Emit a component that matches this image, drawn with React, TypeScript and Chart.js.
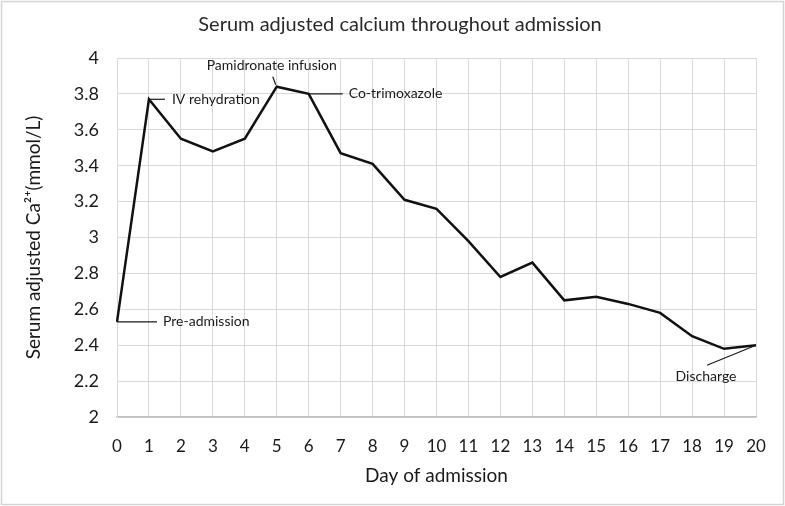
import React, { useEffect, useRef } from "react";
import { Chart, registerables } from "chart.js";

Chart.register(...registerables);

const days: string[] = ["0","1","2","3","4","5","6","7","8","9","10","11","12","13","14","15","16","17","18","19","20"];
const calcium: number[] = [2.53, 3.77, 3.55, 3.48, 3.55, 3.84, 3.80, 3.47, 3.41, 3.21, 3.16, 2.98, 2.78, 2.86, 2.65, 2.67, 2.63, 2.58, 2.45, 2.38, 2.40];

const chartTitle = "Serum adjusted calcium throughout admission";
const xTitle = "Day of admission";
const yTitle = "Serum adjusted Ca\u00B2\u207A(mmol/L)";

// annotation: day index, label
const annotationDays: number[] = [0, 1, 5, 6, 20];
const annotationLabels: string[] = ["Pre-admission", "IV rehydration", "Pamidronate infusion", "Co-trimoxazole", "Discharge"];

const FONT = "Lato, 'Open Sans', sans-serif";

export default function App() {
  const ref = useRef<HTMLCanvasElement | null>(null);
  useEffect(() => {
    if (!ref.current) return;
    const overlay = {
      id: "overlay",
      afterDatasetsDraw(chart: any) {
        const ctx = chart.ctx as CanvasRenderingContext2D;
        const xs = chart.scales.x;
        const ys = chart.scales.y;
        ctx.save();
        ctx.strokeStyle = "#1a1a1a";
        ctx.fillStyle = "#1a1a1a";
        ctx.lineWidth = 1.2;
        ctx.font = `14px ${FONT}`;
        ctx.textBaseline = "middle";
        annotationDays.forEach((d, i) => {
          const px = xs.getPixelForValue(d);
          const py = ys.getPixelForValue(calcium[d]);
          const label = annotationLabels[i];
          ctx.beginPath();
          if (i === 0) {
            ctx.moveTo(px, py); ctx.lineTo(px + 40, py); ctx.stroke();
            ctx.textAlign = "left"; ctx.fillText(label, px + 46, py);
          } else if (i === 1) {
            ctx.moveTo(px, py); ctx.lineTo(px + 16, py); ctx.stroke();
            ctx.textAlign = "left"; ctx.fillText(label, px + 23, py);
          } else if (i === 2) {
            ctx.moveTo(px - 1, py - 2); ctx.lineTo(px - 4, py - 10); ctx.stroke();
            ctx.textAlign = "center"; ctx.fillText(label, px - 5, py - 21);
          } else if (i === 3) {
            ctx.moveTo(px, py); ctx.lineTo(px + 34, py); ctx.stroke();
            ctx.textAlign = "left"; ctx.fillText(label, px + 40, py);
          } else {
            ctx.moveTo(px, py); ctx.lineTo(px - 49, py + 20); ctx.stroke();
            ctx.textAlign = "center"; ctx.fillText(label, px - 50, py + 31);
          }
        });
        ctx.restore();
      },
      afterDraw(chart: any) {
        const ctx = chart.ctx as CanvasRenderingContext2D;
        ctx.save();
        ctx.fillStyle = "#2a2a2a";
        ctx.textAlign = "center";
        ctx.textBaseline = "middle";
        ctx.font = `20px ${FONT}`;
        ctx.fillText(chartTitle, 400, 25);
        ctx.strokeStyle = "#d4d4d4";
        ctx.lineWidth = 1.5;
        ctx.strokeRect(1.5, 1.5, chart.width - 3, chart.height - 3);
        ctx.restore();
      },
    };
    const chart = new Chart(ref.current, {
      type: "line",
      data: {
        labels: days,
        datasets: [
          {
            data: calcium,
            borderColor: "#111",
            borderWidth: 2.5,
            pointRadius: 0,
            tension: 0,
            fill: false,
          },
        ],
      },
      options: {
        animation: false,
        responsive: false,
        maintainAspectRatio: false,
        layout: { padding: { top: 58, right: 29, left: 22, bottom: 19 } },
        plugins: { legend: { display: false }, title: { display: false }, tooltip: { enabled: false } },
        scales: {
          x: {
            type: "category",
            offset: false,
            grid: { color: "#d9d9d9", lineWidth: 1, drawTicks: false },
            border: { color: "#bfbfbf", width: 1.5 },
            ticks: { color: "#1a1a1a", font: { family: FONT, size: 17 }, padding: 19, maxRotation: 0, autoSkip: false },
            title: { display: true, text: xTitle, color: "#1a1a1a", font: { family: FONT, size: 19 }, padding: { top: 4, bottom: 0 } },
            afterFit: (s: any) => { s.height = 70; },
          },
          y: {
            min: 2,
            max: 4,
            grid: { color: "#d9d9d9", lineWidth: 1, drawTicks: false },
            border: { color: "#d9d9d9", width: 1 },
            ticks: {
              stepSize: 0.2,
              color: "#1a1a1a",
              font: { family: FONT, size: 18 },
              padding: 18,
              callback: (v: any) => String(Math.round(Number(v) * 10) / 10),
            },
            title: { display: true, text: yTitle, color: "#1a1a1a", font: { family: FONT, size: 19 }, padding: { top: 0, bottom: 8 } },
            afterFit: (s: any) => { s.width = 95; },
          },
        },
      },
      plugins: [overlay],
    });
    return () => chart.destroy();
  }, []);
  return (
    <div style={{ position: "fixed", left: 0, top: 0, width: 785, height: 506, background: "#fff" }}>
      <canvas ref={ref} width={785} height={506} style={{ width: 785, height: 506 }} />
    </div>
  );
}
